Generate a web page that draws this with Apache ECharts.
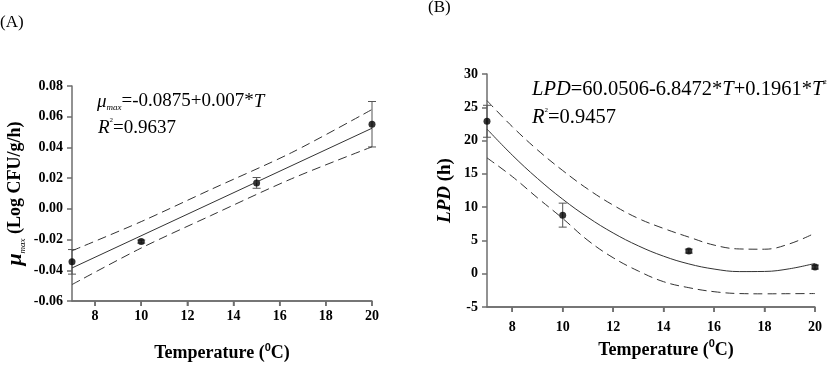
<!DOCTYPE html>
<html>
<head>
<meta charset="utf-8">
<script src="https://cdn.jsdelivr.net/npm/echarts@6/dist/echarts.min.js"></script>
<style>
  html, body { margin: 0; padding: 0; background: #fff; }
  #chart { width: 827px; height: 375px; }
</style>
</head>
<body>
<div id="chart"></div>
<script>
// (A) growth rate vs temperature
const tempA = [7, 10, 15, 20];
const muMean = [-0.0345, -0.0213, 0.0169, 0.0551];
const muErr = [0.008, 0.001, 0.0035, 0.0148];
const fitTA = [7, 20];
const fitA = [-0.0385, 0.0525];
const bandTA = [7, 10, 13, 16.5, 20];
const upperA = [-0.0273, -0.0083, 0.0125, 0.0365, 0.0647];
const lowerA = [-0.0493, -0.0255, -0.0045, 0.0195, 0.0404];

// (B) lag phase duration vs temperature
const tempB = [7, 10, 15, 20];
const lpdMean = [22.9, 8.8, 3.4, 1.0];
const lpdErr = [2.4, 1.8, 0.3, 0.3];
const curveTB = [7, 8, 9, 10, 11, 12, 13, 14, 15, 16, 17, 18, 19, 20];
const fitB = [21.73, 17.82, 14.31, 11.19, 8.46, 6.12, 4.18, 2.63, 1.47, 0.70, 0.32, 0.34, 0.75, 1.55];
const upperB = [26.0, 22.1, 18.6, 15.5, 12.7, 10.3, 8.3, 6.8, 5.5, 4.3, 3.72, 3.68, 4.5, 6.1];
const lowerB = [17.4, 14.6, 11.4, 8.3, 5.0, 2.4, 0.4, -1.2, -2.1, -2.7, -2.98, -3.02, -3.0, -2.98];

const xTicks = [8, 10, 12, 14, 16, 18, 20];
const yMinA = -0.06;
const yMinB = -5;

const serif = "Liberation Serif, Times New Roman, serif";
const axisGray = '#6e6e6e';
const lineGray = '#333';

const pairs = (xs, ys) => xs.map((x, i) => [x, ys[i]]);
const errRows = (xs, m, e) => xs.map((x, i) => [x, m[i] - e[i], m[i] + e[i]]);

const renderErr = (params, api) => {
  const lo = api.coord([api.value(0), api.value(1)]);
  const hi = api.coord([api.value(0), api.value(2)]);
  const w = 4;
  const st = { stroke: '#555', lineWidth: 1 };
  return {
    type: 'group',
    children: [
      { type: 'line', shape: { x1: lo[0], y1: lo[1], x2: hi[0], y2: hi[1] }, style: st },
      { type: 'line', shape: { x1: lo[0] - w, y1: lo[1], x2: lo[0] + w, y2: lo[1] }, style: st },
      { type: 'line', shape: { x1: hi[0] - w, y1: hi[1], x2: hi[0] + w, y2: hi[1] }, style: st }
    ]
  };
};

// bottom axis ticks, drawn through the axis scale
const renderTick = yMin => (params, api) => {
  const p = api.coord([api.value(0), yMin]);
  return {
    type: 'line',
    shape: { x1: p[0], y1: p[1], x2: p[0], y2: p[1] + 5 },
    style: { stroke: axisGray, lineWidth: 1.5 }
  };
};

const bottomLine = yMin => ({
  silent: true,
  symbol: ['none', 'none'],
  label: { show: false },
  lineStyle: { color: axisGray, type: 'solid', width: 1.5 },
  data: [{ yAxis: yMin }]
});

const tickLabel = { color: '#000', fontFamily: serif, fontWeight: 'bold', fontSize: 14 };

const xAxisCommon = (gridIndex, labelMargin, nameGap, pad) => ({
  type: 'value',
  gridIndex,
  min: 7,
  max: 20,
  splitLine: { show: false },
  axisLine: { show: true, onZero: false, lineStyle: { color: axisGray, width: 1.5 } },
  axisTick: { show: true, customValues: xTicks, length: 5, lineStyle: { color: axisGray, width: 1.5 } },
  axisLabel: Object.assign({ customValues: xTicks, margin: labelMargin }, tickLabel),
  name: '{b|Temperature (}{sup|0}{b|C)}',
  nameLocation: 'middle',
  nameGap,
  nameTextStyle: {
    padding: pad,
    rich: {
      b: { fontFamily: serif, fontWeight: 'bold', fontSize: 18, color: '#000', lineHeight: 22 },
      sup: { fontFamily: 'Liberation Sans, Arial, sans-serif', fontWeight: 'bold', fontSize: 11, color: '#000', verticalAlign: 'top', lineHeight: 12 }
    }
  }
});

const chart = echarts.init(document.getElementById('chart'));

const option = {
  animation: false,
  backgroundColor: '#fff',
  grid: [
    { left: 72, top: 86, width: 300, height: 215 },
    { left: 487, top: 74, width: 328, height: 233 }
  ],
  xAxis: [xAxisCommon(0, 8, 41, [0, 0, 0, 0]), xAxisCommon(1, 13, 25, [0, 0, 0, 30])],
  yAxis: [{
    type: 'value',
    gridIndex: 0,
    min: yMinA,
    max: 0.08,
    interval: 0.02,
    splitLine: { show: false },
    axisLine: { show: true, lineStyle: { color: axisGray, width: 1.5 } },
    axisTick: { show: true, length: 5, lineStyle: { color: axisGray, width: 1.5 } },
    axisLabel: Object.assign({ formatter: v => v.toFixed(2), margin: 9 }, tickLabel),
    name: '{mu|μ}{sub|max}{b| (Log CFU/g/h)}',
    nameLocation: 'middle',
    nameRotate: 90,
    nameGap: 45,
    nameTextStyle: {
      rich: {
        mu: { fontFamily: serif, fontStyle: 'italic', fontWeight: 'bold', fontSize: 22, color: '#000', lineHeight: 24 },
        sub: { fontFamily: serif, fontStyle: 'italic', fontSize: 9, color: '#000', verticalAlign: 'bottom', lineHeight: 10 },
        b: { fontFamily: serif, fontWeight: 'bold', fontSize: 18, color: '#000', lineHeight: 22 }
      }
    }
  }, {
    type: 'value',
    gridIndex: 1,
    min: yMinB,
    max: 30,
    interval: 5,
    splitLine: { show: false },
    axisLine: { show: true, lineStyle: { color: axisGray, width: 1.5 } },
    axisTick: { show: true, length: 5, lineStyle: { color: axisGray, width: 1.5 } },
    axisLabel: Object.assign({ margin: 9 }, tickLabel),
    name: '{i|LPD}{b| (h)}',
    nameLocation: 'middle',
    nameRotate: 90,
    nameGap: 32,
    nameTextStyle: {
      rich: {
        i: { fontFamily: serif, fontStyle: 'italic', fontWeight: 'bold', fontSize: 19, color: '#000' },
        b: { fontFamily: serif, fontWeight: 'bold', fontSize: 19, color: '#000' }
      }
    }
  }],
  graphic: [
    { type: 'text', left: 0, top: 14, style: { text: '(A)', font: '17px ' + serif, fill: '#000' } },
    { type: 'text', left: 428, top: -1, style: { text: '(B)', font: '17px ' + serif, fill: '#000' } },
    {
      type: 'text', left: 97, top: 92,
      style: {
        text: '{i|μ}{sub|max}{n|=-0.0875+0.007*}{i|T}',
        rich: {
          i: { fontFamily: serif, fontStyle: 'italic', fontSize: 19, fill: '#000', lineHeight: 22 },
          sub: { fontFamily: serif, fontStyle: 'italic', fontSize: 9, fill: '#000', verticalAlign: 'bottom', lineHeight: 10 },
          n: { fontFamily: serif, fontSize: 19, fill: '#000', lineHeight: 22 }
        }
      }
    },
    {
      type: 'text', left: 98, top: 117,
      style: {
        text: '{i|R}{sup|2}{n|=0.9637}',
        rich: {
          i: { fontFamily: serif, fontStyle: 'italic', fontSize: 19, fill: '#000', lineHeight: 22 },
          sup: { fontFamily: serif, fontSize: 7, fill: '#000', verticalAlign: 'top', lineHeight: 8 },
          n: { fontFamily: serif, fontSize: 19, fill: '#000', lineHeight: 22 }
        }
      }
    },
    {
      type: 'text', left: 532, top: 79,
      style: {
        text: '{i|LPD}{n|=60.0506-6.8472*}{i|T}{n|+0.1961*}{i|T}{sup|2}',
        rich: {
          i: { fontFamily: serif, fontStyle: 'italic', fontSize: 20.5, fill: '#000', lineHeight: 22 },
          sup: { fontFamily: serif, fontSize: 7, fill: '#000', verticalAlign: 'top', lineHeight: 8 },
          n: { fontFamily: serif, fontSize: 20.5, fill: '#000', lineHeight: 22 }
        }
      }
    },
    {
      type: 'text', left: 532, top: 107,
      style: {
        text: '{i|R}{sup|2}{n|=0.9457}',
        rich: {
          i: { fontFamily: serif, fontStyle: 'italic', fontSize: 20.5, fill: '#000', lineHeight: 22 },
          sup: { fontFamily: serif, fontSize: 7, fill: '#000', verticalAlign: 'top', lineHeight: 8 },
          n: { fontFamily: serif, fontSize: 20.5, fill: '#000', lineHeight: 22 }
        }
      }
    }
  ],
  series: [
    // panel A
    { type: 'line', xAxisIndex: 0, yAxisIndex: 0, data: pairs(fitTA, fitA), symbol: 'none',
      lineStyle: { color: lineGray, width: 1 }, markLine: bottomLine(yMinA) },
    { type: 'line', xAxisIndex: 0, yAxisIndex: 0, data: pairs(bandTA, upperA), symbol: 'none', smooth: 0.3,
      lineStyle: { color: lineGray, width: 1, type: [9, 5] } },
    { type: 'line', xAxisIndex: 0, yAxisIndex: 0, data: pairs(bandTA, lowerA), symbol: 'none', smooth: 0.3,
      lineStyle: { color: lineGray, width: 1, type: [9, 5] } },
    { type: 'custom', xAxisIndex: 0, yAxisIndex: 0, data: errRows(tempA, muMean, muErr), renderItem: renderErr,
      encode: { x: 0, y: [1, 2] }, clip: false },
    { type: 'scatter', xAxisIndex: 0, yAxisIndex: 0, data: pairs(tempA, muMean), symbolSize: 7,
      itemStyle: { color: '#000' }, clip: false },
    { type: 'custom', xAxisIndex: 0, yAxisIndex: 0, data: xTicks.map(v => [v]), renderItem: renderTick(yMinA),
      encode: { x: 0 }, clip: false, silent: true },
    // panel B
    { type: 'line', xAxisIndex: 1, yAxisIndex: 1, data: pairs(curveTB, fitB), symbol: 'none', smooth: 0.4,
      lineStyle: { color: lineGray, width: 1 }, markLine: bottomLine(yMinB) },
    { type: 'line', xAxisIndex: 1, yAxisIndex: 1, data: pairs(curveTB, upperB), symbol: 'none', smooth: 0.4,
      lineStyle: { color: lineGray, width: 1, type: [9, 5] } },
    { type: 'line', xAxisIndex: 1, yAxisIndex: 1, data: pairs(curveTB, lowerB), symbol: 'none', smooth: 0.4,
      lineStyle: { color: lineGray, width: 1, type: [9, 5] } },
    { type: 'custom', xAxisIndex: 1, yAxisIndex: 1, data: errRows(tempB, lpdMean, lpdErr), renderItem: renderErr,
      encode: { x: 0, y: [1, 2] }, clip: false },
    { type: 'scatter', xAxisIndex: 1, yAxisIndex: 1, data: pairs(tempB, lpdMean), symbolSize: 7,
      itemStyle: { color: '#000' }, clip: false },
    { type: 'custom', xAxisIndex: 1, yAxisIndex: 1, data: xTicks.map(v => [v]), renderItem: renderTick(yMinB),
      encode: { x: 0 }, clip: false, silent: true }
  ]
};

chart.setOption(option);
window.addEventListener('resize', () => chart.resize());
</script>
</body>
</html>
